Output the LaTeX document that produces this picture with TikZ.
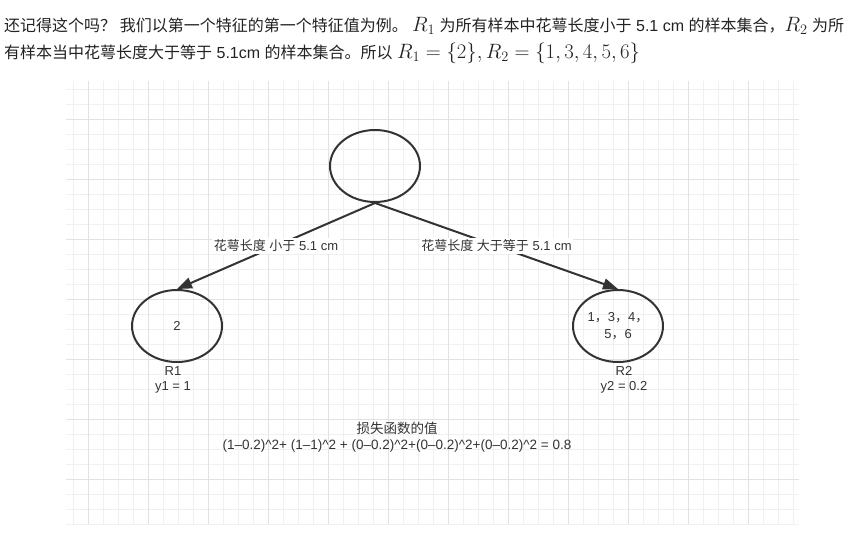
\documentclass[tikz,border=0pt]{standalone}
\usepackage{fontspec}
\setmainfont{Liberation Sans}
\newfontfamily\cjk{Noto Sans CJK SC}
\usetikzlibrary{arrows.meta,shapes.geometric}
\definecolor{minorgrid}{HTML}{F0F0F0}
\definecolor{majorgrid}{HTML}{E2E2E2}
\definecolor{ink}{HTML}{333333}
\definecolor{toptxt}{HTML}{222222}
\newcommand{\crt}{\textasciicircum}
\newcommand{\mymath}[1]{{\fontsize{21}{21}\selectfont$#1$}}
\tikzset{
  treenode/.style={ellipse, draw=ink, line width=2pt, minimum width=90pt, minimum height=72pt, inner sep=0pt, font=\fontsize{13}{17}\selectfont, text=ink, align=center},
  edgelabel/.style={fill=white, inner sep=1.5pt, font=\fontsize{13}{15}\selectfont, text=ink},
  plain/.style={font=\fontsize{13}{15.5}\selectfont, text=ink, inner sep=0pt, align=center},
  conn/.style={draw=ink, line width=2pt, -{Triangle[length=15pt,width=11pt]}},
  topline/.style={anchor=base west, inner sep=0pt, font=\fontsize{16}{18}\selectfont, text=toptxt}
}
\begin{document}
\begin{tikzpicture}[x=1pt,y=-1pt]
\useasboundingbox (0,0) rectangle (861,536);
% grid
\foreach \k in {0,...,48} \draw[minorgrid, line width=1pt] (73+15*\k,81) -- (73+15*\k,524);
\foreach \k in {0,...,29} \draw[minorgrid, line width=1pt] (66,89+15*\k) -- (799,89+15*\k);
\foreach \k in {0,...,11} \draw[majorgrid, line width=1pt] (88+60*\k,81) -- (88+60*\k,524);
\foreach \k in {0,...,6} \draw[majorgrid, line width=1pt] (66,119+60*\k) -- (799,119+60*\k);
% top text
\node[topline] (t1) at (4,31) {{\cjk 还记得这个吗？ 我们以第一个特征的第一个特征值为例。} \mymath{R_1} {\cjk 为所有样本中花萼长度小于} 5.1 cm {\cjk 的样本集合，}\mymath{R_2} {\cjk 为所}};
\node[topline] (t2) at (4,58) {{\cjk 有样本当中花萼长度大于等于} 5.1cm {\cjk 的样本集合。所以} \mymath{R_1=\{2\}, R_2=\{1,3,4,5,6\}}};
% tree
\node[treenode] (root) at (375,166) {};
\node[treenode] (r1) at (177,326) {2};
\node[treenode] (r2) at (618,326) {1{\cjk ，}3{\cjk ，}4{\cjk ，}\\5{\cjk ，}6};
\draw[conn] (root.south) -- (r1.north) node[edgelabel, midway] (l1) {{\cjk 花萼长度} {\cjk 小于} 5.1 cm};
\draw[conn] (root.south) -- (r2.north) node[edgelabel, midway] (l2) {{\cjk 花萼长度} {\cjk 大于等于} 5.1 cm};
\node[plain] (r1lab) at (173,380) {R1\\y1 = 1};
\node[plain] (r2lab) at (624,380) {R2\\y2 = 0.2};
\node[plain, font=\fontsize{13.5}{16}\selectfont] (loss) at (397,437) {{\cjk 损失函数的值}\\(1–0.2)\crt2+ (1–1)\crt2 + (0–0.2)\crt2+(0–0.2)\crt2+(0–0.2)\crt2 = 0.8};
\end{tikzpicture}
\end{document}
